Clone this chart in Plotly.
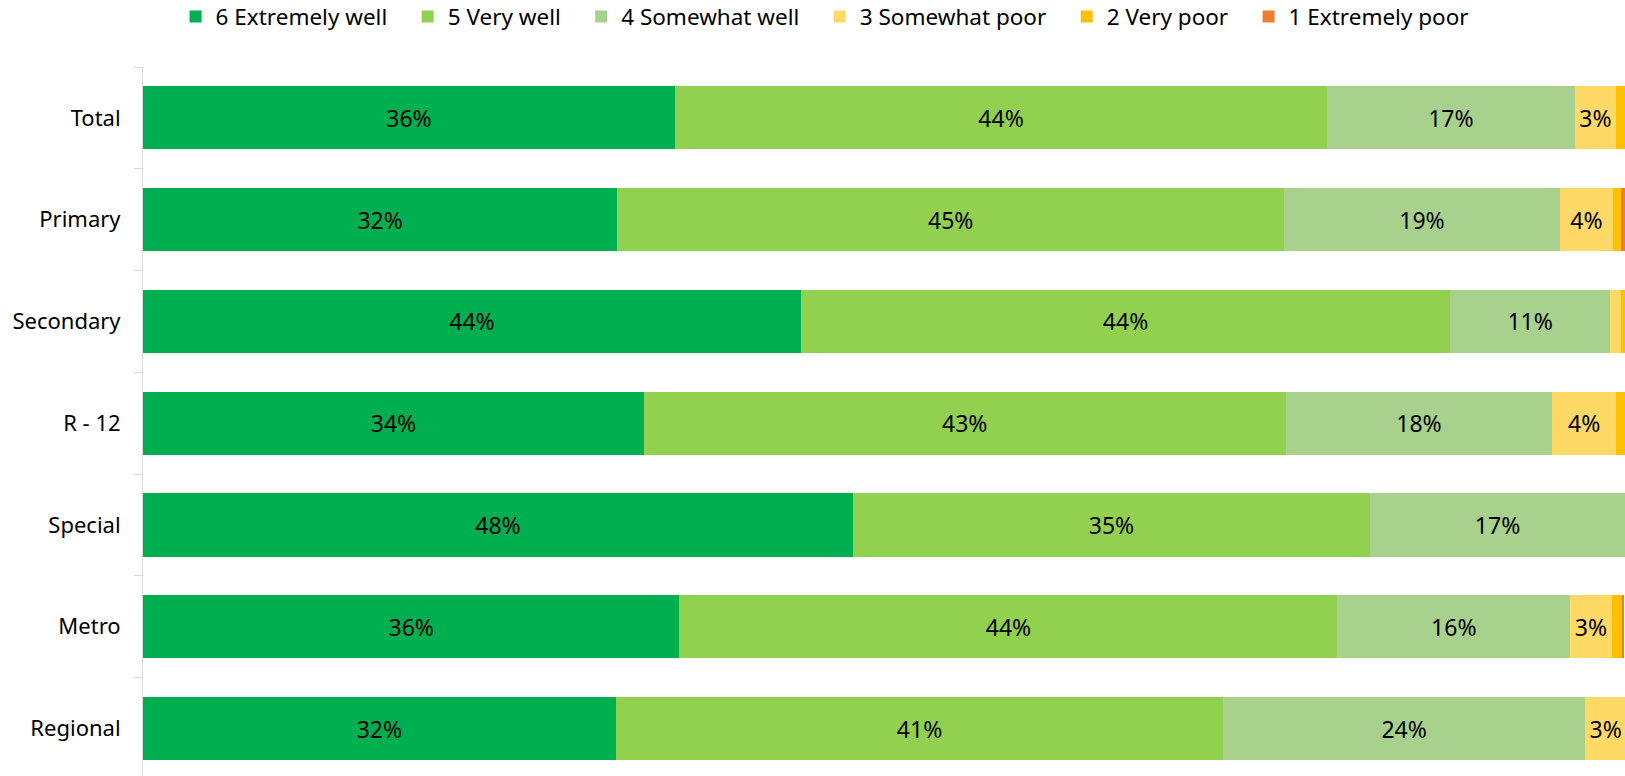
import plotly.graph_objects as go

# Survey rows, top to bottom
categories = ["Total", "Primary", "Secondary", "R - 12", "Special", "Metro", "Regional"]

# Share of responses per rating (fractions of 1)
extremely_well = [0.359, 0.320, 0.444, 0.338, 0.479, 0.362, 0.319]
very_well = [0.440, 0.450, 0.438, 0.433, 0.349, 0.444, 0.410]
somewhat_well = [0.167, 0.186, 0.108, 0.180, 0.172, 0.157, 0.244]
somewhat_poor = [0.028, 0.036, 0.007, 0.043, 0.000, 0.028, 0.028]
very_poor = [0.006, 0.005, 0.004, 0.008, 0.000, 0.007, 0.000]
extremely_poor = [0.000, 0.003, 0.000, 0.000, 0.000, 0.001, 0.000]

series_names = ["6 Extremely well", "5 Very well", "4 Somewhat well",
                "3 Somewhat poor", "2 Very poor", "1 Extremely poor"]
series_values = [extremely_well, very_well, somewhat_well,
                 somewhat_poor, very_poor, extremely_poor]
series_colors = ["#00B050", "#92D050", "#A9D18E", "#FFD966", "#FFC000", "#ED7D31"]

FONT = "Noto Sans"
PAD = "\u00a0\u00a0\u2009"  # extra room between legend entries


def pct_labels(vals, min_share=0.025):
    return [f"{round(v * 100)}%" if v >= min_share else "" for v in vals]


fig = go.Figure()
for name, vals, color in zip(series_names, series_values, series_colors):
    fig.add_trace(go.Bar(
        y=categories,
        x=vals,
        name=name + PAD,
        orientation="h",
        marker=dict(color=color, line=dict(width=0)),
        text=pct_labels(vals),
        textposition="inside",
        insidetextanchor="middle",
        textangle=0,
        constraintext="none",
        textfont=dict(family=FONT, size=23, color="#000000"),
        hoverinfo="skip",
    ))

fig.update_layout(
    width=1625,
    height=776,
    barmode="stack",
    bargap=0.38,
    paper_bgcolor="white",
    plot_bgcolor="white",
    margin=dict(l=143, r=0, t=67, b=0, autoexpand=False),
    font=dict(family=FONT, size=22, color="#000000"),
    showlegend=True,
    legend=dict(
        orientation="h",
        x=0.022,
        xanchor="left",
        y=1.101,
        yanchor="top",
        font=dict(family=FONT, size=22.5, color="#000000"),
        traceorder="normal",
        bgcolor="rgba(0,0,0,0)",
    ),
    xaxis=dict(
        range=[0, 1],
        visible=False,
        showgrid=False,
        zeroline=False,
    ),
    yaxis=dict(
        type="category",
        categoryorder="array",
        categoryarray=categories,
        range=[6.466, -0.5],
        showline=True,
        linecolor="#D9D9D9",
        linewidth=1,
        ticks="outside",
        tickson="boundaries",
        ticklen=8,
        tickcolor="#D9D9D9",
        tickwidth=1,
        ticklabelstandoff=17,
        tickfont=dict(family=FONT, size=22, color="#000000"),
        showgrid=False,
        zeroline=False,
    ),
)

fig.write_html("out.html")
